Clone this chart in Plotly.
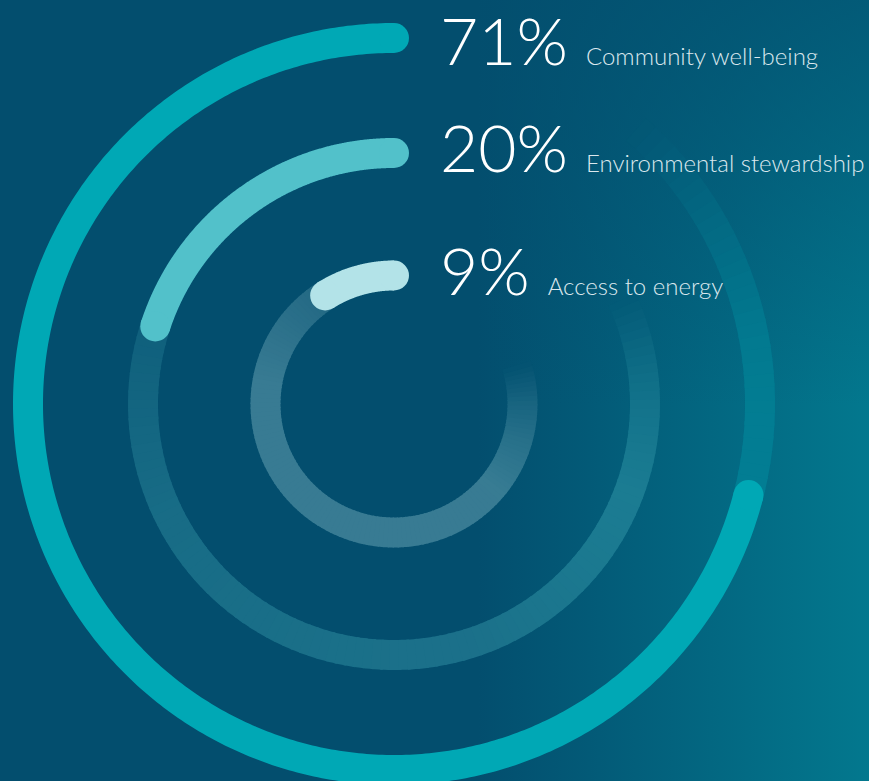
import numpy as np
import plotly.graph_objects as go

# ---------------- data ----------------
categories = ["Community well-being", "Environmental stewardship", "Access to energy"]
values = [71, 20, 9]  # percent

# ---------------- style ----------------
bar_colors = [(0, 168, 181), (82, 193, 202), (179, 227, 232)]
W, H = 869, 781
CX, CY = 394, 404
RADII = [366, 251, 128.5]
STROKE = 30
BG0 = (3, 78, 110)
BG1 = (3, 120, 142)
BG_START = 0.55
TOP_SHADE = 0.7      # darkening of the upper right corner
SHADE_END = 0.52     # fraction of height where the shading vanishes
LABEL_MIN_Y = 39     # keeps the first label fully inside the page

# faint track opacity along the ring (angle in degrees, counter-clockwise from 12 o'clock)
track_profiles = [
    [(250, 0.30), (280, 0.27), (300, 0.13), (318, 0.0)],
    [(70, 0.15), (115, 0.26), (180, 0.30), (250, 0.30), (270, 0.2), (294, 0.0)],
    [(30, 0.17), (80, 0.30), (230, 0.30), (255, 0.2), (270, 0.12), (287, 0.0)],
]


def rgb(c):
    return "rgb(%d,%d,%d)" % tuple(int(round(v)) for v in c)


def rgba(c, a):
    return "rgba(%d,%d,%d,%.3f)" % (tuple(int(round(v)) for v in c) + (a,))


def blend(base, top, a):
    return tuple(b * (1 - a) + t * a for b, t in zip(base, top))


def bg_at(x, y):
    t = x / W
    if t <= BG_START:
        c = BG0
    else:
        f = (t - BG_START) / (1 - BG_START)
        c = tuple(a + (b - a) * f for a, b in zip(BG0, BG1))
    s = max(0.0, 1 - (y / H) / SHADE_END) * TOP_SHADE
    return blend(c, BG0, s)


def arc(r, a0, a1, n):
    th = np.radians(np.linspace(a0, a1, n))
    return CX - r * np.sin(th), CY - r * np.cos(th)


def alpha_at(profile, ang):
    angs = [p[0] for p in profile]
    als = [p[1] for p in profile]
    return float(np.interp(ang, angs, als, left=als[0], right=0.0))


fig = go.Figure()

# background gradient
fig.add_trace(go.Scatter(
    x=[0, W, W, 0, 0], y=[0, 0, H, H, 0], mode="lines", fill="toself",
    line=dict(width=0, color=rgb(BG0)),
    fillgradient=dict(type="horizontal",
                      colorscale=[[0, rgb(BG0)], [BG_START, rgb(BG0)], [1, rgb(BG1)]]),
    hoverinfo="skip", showlegend=False))
fig.add_trace(go.Scatter(
    x=[0, W, W, 0, 0], y=[0, 0, H, H, 0], mode="lines", fill="toself",
    line=dict(width=0, color=rgba(BG0, 0)),
    fillgradient=dict(type="vertical", start=0, stop=H,
                      colorscale=[[0, rgba(BG0, TOP_SHADE)], [SHADE_END, rgba(BG0, 0)],
                                  [1, rgba(BG0, 0)]]),
    hoverinfo="skip", showlegend=False))

# faint tracks
step = 2.0
for v, r, col, prof in zip(values, RADII, bar_colors, track_profiles):
    start = v * 3.6
    end = prof[-1][0]
    a = start - 1
    while a < end:
        a1 = min(a + step, end)
        mid = (a + a1) / 2
        al = alpha_at(prof, mid)
        xs, ys = arc(r, a, a1 + 0.6, 4)
        c = blend(bg_at(float(np.mean(xs)), float(np.mean(ys))), col, al)
        fig.add_trace(go.Scatter(x=xs, y=ys, mode="lines",
                                 line=dict(color=rgb(c), width=STROKE, simplify=False),
                                 hoverinfo="skip", showlegend=False))
        a = a1

# value bars with rounded ends
for v, r, col, cat in zip(values, RADII, bar_colors, categories):
    xs, ys = arc(r, 0, v * 3.6, 400)
    fig.add_trace(go.Scatter(x=xs, y=ys, mode="lines",
                             line=dict(color=rgb(col), width=STROKE, simplify=False),
                             hoverinfo="skip", showlegend=False, name=cat))
    fig.add_trace(go.Scatter(x=[xs[0], xs[-1]], y=[ys[0], ys[-1]], mode="markers",
                             marker=dict(color=rgb(col), size=STROKE, line=dict(width=0)),
                             hoverinfo="skip", showlegend=False))

# labels
annotations = []
for v, r, cat in zip(values, RADII, categories):
    txt = ("<span style='font-size:66px;color:#ffffff'>%d%%&nbsp;</span>"
           "<span style='color:#dbe8ee'>%s</span>" % (v, cat))
    annotations.append(dict(x=438, y=max(CY - r - 6.5, LABEL_MIN_Y), xref="x", yref="y",
                            xanchor="left", yanchor="middle", showarrow=False,
                            text=txt, font=dict(family="Lato", size=24, weight=300,
                                                color="#dbe8ee")))

fig.update_layout(
    width=W, height=H, margin=dict(l=0, r=0, t=0, b=0),
    paper_bgcolor=rgb(BG0), plot_bgcolor=rgb(BG0),
    xaxis=dict(range=[0, W], visible=False, fixedrange=True),
    yaxis=dict(range=[H, 0], visible=False, fixedrange=True),
    showlegend=False, annotations=annotations,
)

fig.write_html("out.html", config={"displayModeBar": False},
               post_script="document.body.style.margin='0';document.body.style.overflow='hidden';")
